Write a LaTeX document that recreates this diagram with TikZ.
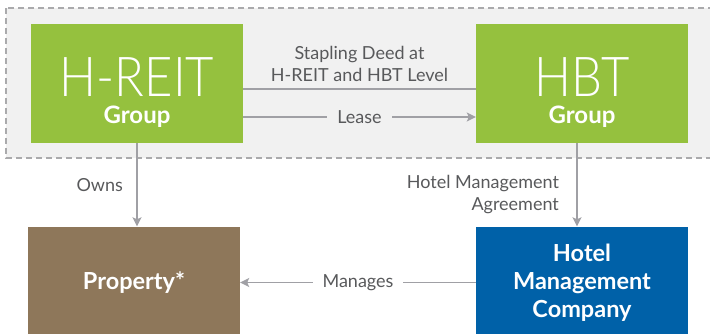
\documentclass[tikz,border=0pt]{standalone}
\usepackage{fontspec}
\setmainfont{Lato}
\newfontfamily\thinfont[FakeStretch=0.89]{Lato Light}
\usetikzlibrary{arrows.meta}

\definecolor{reitgreen}{RGB}{149,193,62}
\definecolor{propbrown}{RGB}{142,119,90}
\definecolor{mgmtblue}{RGB}{0,97,168}
\definecolor{panelgray}{RGB}{241,241,241}
\definecolor{dashgray}{RGB}{170,170,172}
\definecolor{linkgray}{RGB}{160,160,165}
\definecolor{labelgray}{RGB}{88,89,91}

\tikzset{
    groupbox/.style={fill=reitgreen, minimum width=212pt, minimum height=119pt, inner sep=0pt},
    lowerbox/.style={minimum width=212pt, minimum height=112pt, inner sep=0pt, text=white,
        align=center, font=\bfseries\fontsize{23.5}{28}\selectfont},
    bigname/.style={anchor=base, text=white, inner sep=0pt, text height=40pt, text depth=0pt,
        font=\thinfont\fontsize{55}{44}\selectfont},
    subname/.style={anchor=base, text=white, inner sep=0pt, text height=17pt, text depth=5pt,
        font=\bfseries\fontsize{24}{20}\selectfont},
    link/.style={draw=linkgray, line width=1.5pt},
    linktxt/.style={text=labelgray, font=\fontsize{18}{22}\selectfont}
}

\begin{document}
\begin{tikzpicture}[x=1pt, y=-1pt]
    \clip (0,0) rectangle (710,334);
    \draw[fill=panelgray, draw=dashgray, line width=1.5pt, dash pattern=on 6pt off 4pt]
        (6,8) rectangle (730,158);  % stapled groups

    \node[groupbox] (hreit) at (137,83.5) {};
    \node[groupbox] (hbt) at (582,83.5) {};
    \node[bigname] (hreittxt) at (137,97) {H-REIT};
    \node[subname] (hreitsub) at (137,124) {Group};
    \node[bigname] (hbttxt) at (582,97) {HBT};
    \node[subname] (hbtsub) at (582,124) {Group};

    \node[lowerbox, fill=propbrown] (prop) at (134,282.5) {Property*};
    \node[lowerbox, fill=mgmtblue] (hmc) at (582,282.5) {Hotel\\Management\\Company};

    % stapling and lease between the groups
    \draw[link] ([yshift=-5.5pt]hreit.east) -- ([yshift=-5.5pt]hbt.west);
    \node[linktxt, align=center] (staple) at (359.5,64) {Stapling Deed at\\H-REIT and HBT Level};
    \draw[link, -{Stealth[length=9pt, width=9pt, inset=2pt]}] ([yshift=-33.5pt]hreit.east) --
        node[linktxt, fill=panelgray, inner xsep=10pt] (lease) {Lease} ([yshift=-33.5pt]hbt.west);

    % down to the property and the manager
    \draw[link, -{Stealth[length=9pt, width=9pt, inset=2pt]}] (hreit.south) --
        node[linktxt, left, xshift=-10pt] (owns) {Owns} (hreit.south |- prop.north);
    \draw[link, -{Stealth[length=9pt, width=9pt, inset=2pt]}] ([xshift=-5pt]hbt.south) --
        node[linktxt, left, align=right, xshift=-14pt, yshift=-10pt] (hma) {Hotel Management\\Agreement}
        ([xshift=-5pt]hbt.south |- hmc.north);
    \draw[link, -{Stealth[length=9pt, width=9pt, inset=2pt]}] (hmc.west) --
        node[linktxt, fill=white, inner xsep=10pt] (manages) {Manages} (prop.east);
\end{tikzpicture}
\end{document}
